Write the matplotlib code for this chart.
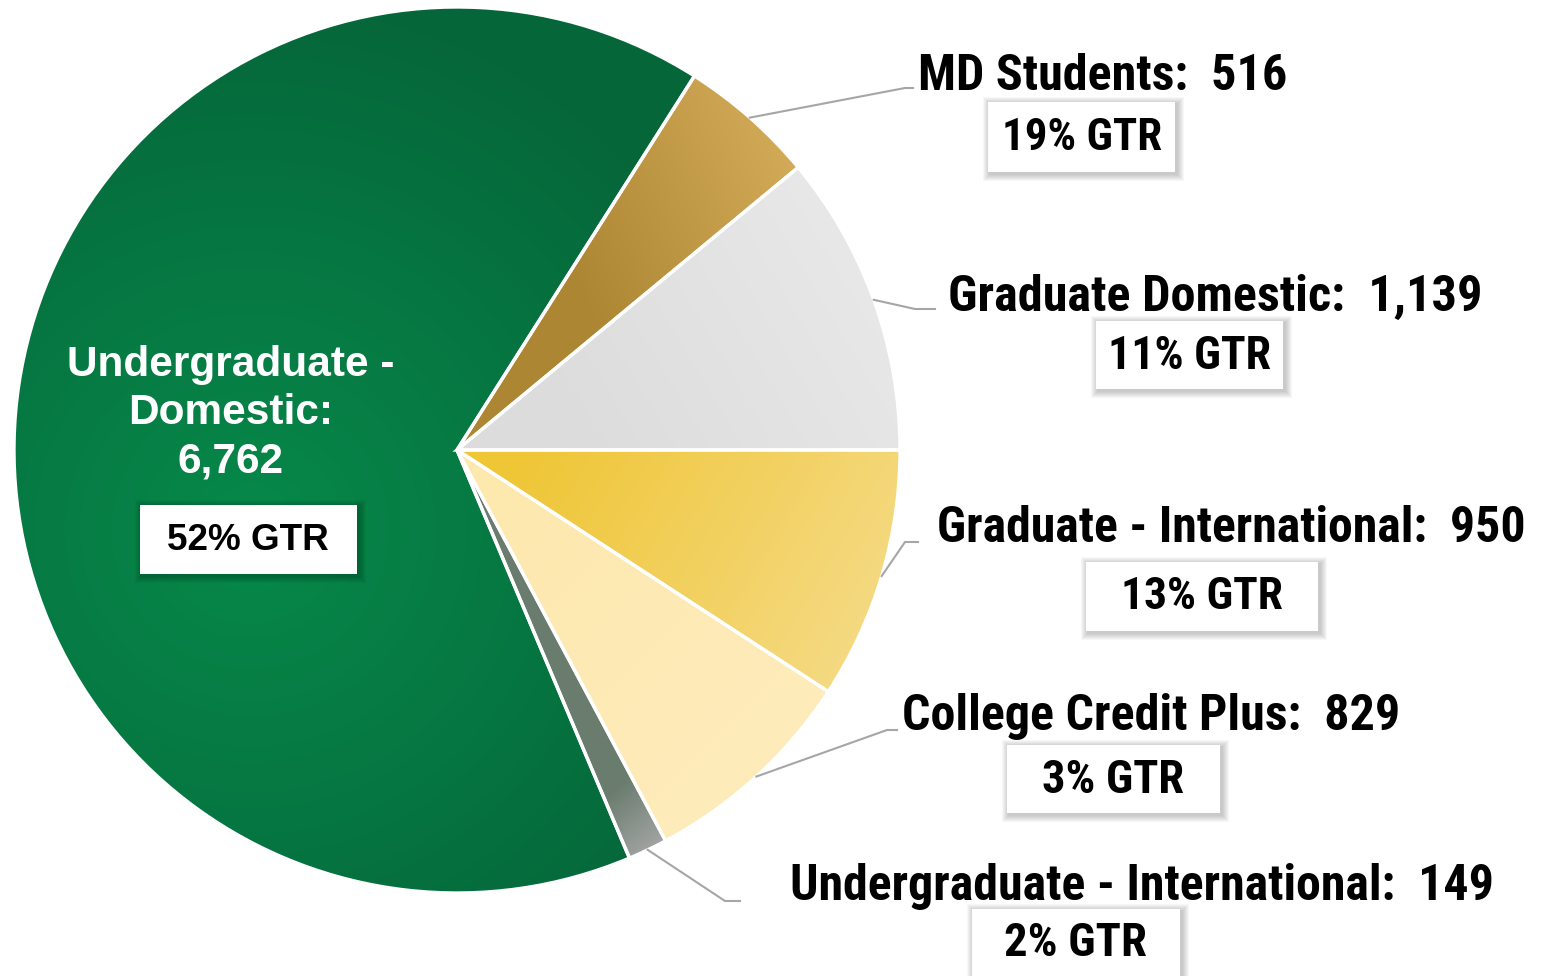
import matplotlib
matplotlib.use("Agg")
import matplotlib.pyplot as plt
import numpy as np
from matplotlib import font_manager
from matplotlib.font_manager import FontProperties
from matplotlib.patches import Rectangle

names = ["Undergraduate - International", "College Credit Plus", "Graduate - International",
         "Graduate Domestic", "MD Students", "Undergraduate - Domestic"]
counts = [149, 829, 950, 1139, 516, 6762]
gtr = ["2% GTR", "3% GTR", "13% GTR", "11% GTR", "19% GTR", "52% GTR"]

# plot order (clockwise from top right)
order = [4, 3, 2, 1, 0, 5]


# look for a narrow bold face, else plain Liberation Sans bold
def find_narrow():
    want = ["liberation sans narrow", "arial narrow", "roboto condensed",
            "open sans condensed", "dejavu sans condensed", "noto sans condensed"]
    fonts = font_manager.fontManager.ttflist
    for w in want:
        for f in fonts:
            fn = f.fname.lower().replace("-", " ").replace("_", " ")
            if (w in f.name.lower() or w.replace(" ", "") in fn.replace(" ", "")) and \
                    ("bold" in fn or f.weight in (700, "bold")):
                return FontProperties(fname=f.fname)
        for f in fonts:
            if w.split()[0] in f.name.lower() and f.stretch == "condensed" and \
                    f.weight in (700, "bold"):
                return FontProperties(fname=f.fname)
    return FontProperties(family="Liberation Sans", weight="bold")


narrow = find_narrow()
wide = FontProperties(family="Liberation Sans", weight="bold")

W, H = 1544, 976
fig = plt.figure(figsize=(W / 100, H / 100), dpi=100)
ax = fig.add_axes([0, 0, 1, 1])
ax.set_xlim(0, W)
ax.set_ylim(0, H)
ax.set_aspect("equal")
ax.axis("off")
renderer = fig.canvas.get_renderer()


def py(y):
    return H - y


cx, cy, r = 457, py(450), 443
vals = [counts[i] for i in order]
start = 360 * (counts[4] + counts[3]) / sum(counts)
wedges, _ = ax.pie(vals, center=(cx, cy), radius=r, startangle=start, counterclock=False,
                   colors=["none"] * 6,
                   wedgeprops=dict(edgecolor="white", linewidth=2.4))
ax.set_xlim(0, W)
ax.set_ylim(0, H)

# gradient fills clipped to wedges
yy, xx = np.mgrid[0:H, 0:W]
xx = xx.astype(float)
yy = (H - yy).astype(float)


def lin(c0, c1, p0, p1):
    c0 = np.array(matplotlib.colors.to_rgb(c0))
    c1 = np.array(matplotlib.colors.to_rgb(c1))
    d = np.array(p1, float) - np.array(p0, float)
    t = ((xx - p0[0]) * d[0] + (yy - p0[1]) * d[1]) / (d @ d)
    t = np.clip(t, 0, 1)[..., None]
    return c0 * (1 - t) + c1 * t


def rad(c0, c1, ctr, rr):
    c0 = np.array(matplotlib.colors.to_rgb(c0))
    c1 = np.array(matplotlib.colors.to_rgb(c1))
    t = np.clip(np.hypot(xx - ctr[0], yy - ctr[1]) / rr, 0, 1)[..., None]
    return c0 * (1 - t) + c1 * t


fills = {
    4: lin("#ad8633", "#d2aa58", (560, py(250)), (790, py(150))),
    3: lin("#dcdcdc", "#e9e9e9", (560, py(420)), (880, py(230))),
    2: lin("#efc636", "#f5da84", (520, py(460)), (860, py(660))),
    1: lin("#fde8ae", "#fdecbc", (500, py(500)), (800, py(800))),
    0: lin("#6a7c6e", "#a8a8a8", (600, py(800)), (650, py(860))),
    5: rad("#07894a", "#05663a", (250, py(530)), 540),
}
for w, i in zip(wedges, order):
    im = ax.imshow(fills[i], extent=(0, W, 0, H), origin="upper", zorder=0.5,
                   interpolation="bilinear")
    im.set_clip_path(w)
    w.set_zorder(1)
ax.set_xlim(0, W)
ax.set_ylim(0, H)

# leader lines from wedge midpoints
elbows = {4: (905, 88, 913), 3: (915, 309, 935), 2: (905, 542, 918),
          1: (887, 730, 897), 0: (725, 901, 740)}
for w, i in zip(wedges, order):
    if i not in elbows:
        continue
    a = np.deg2rad((w.theta1 + w.theta2) / 2)
    x0, y0 = cx + r * np.cos(a), cy + r * np.sin(a)
    ex, ey, hx = elbows[i]
    ax.plot([x0, ex, hx], [y0, py(ey), py(ey)], color="#a6a6a6", lw=1.5, zorder=2)


def fit_text(x, y, s, fp, width, **kw):
    # scale font size so the text spans the given pixel width
    t = ax.text(x, py(y), s, ha="center", va="center", fontproperties=fp,
                fontsize=30, **kw)
    w0 = t.get_window_extent(renderer).width
    t.set_fontsize(30 * width / w0)
    return t


# category labels: centre x, centre y, width in px
label_pos = {4: (1103, 77, 369), 3: (1215, 297, 534), 2: (1231, 529, 589),
             1: (1151, 716, 498), 0: (1142, 886, 705)}
for i, (x, y, wd) in label_pos.items():
    fit_text(x, y, f"{names[i]}:  {counts[i]:,}", narrow, wd, color="black", zorder=3)

ax.text(231, py(413), "Undergraduate -\nDomestic:\n6,762", ha="center", va="center",
        fontproperties=wide, fontsize=30.5, color="white", linespacing=1.26, zorder=3)

# GTR boxes
boxes = {4: (988, 102, 1175, 172), 3: (1096, 321, 1283, 389), 2: (1086, 562, 1318, 631),
         1: (1007, 745, 1220, 813), 0: (972, 909, 1180, 990), 5: (140, 505, 357, 574)}
text_c = {4: (1082, 138, 160), 3: (1190, 356, 163), 2: (1202, 597, 162), 1: (1113, 780, 142),
          0: (1076, 943, 143), 5: (248, 541, 162)}
for i, (x0, y0, x1, y1) in boxes.items():
    # soft shadow
    for k in range(1, 8):
        ax.add_patch(Rectangle((x0 - k + 2, py(y1) - k - 2), x1 - x0 + 2 * k,
                               y1 - y0 + 2 * k, facecolor="black", edgecolor="none",
                               alpha=0.03, zorder=2.5))
    ax.add_patch(Rectangle((x0, py(y1)), x1 - x0, y1 - y0, facecolor="white",
                           edgecolor="none", zorder=3))
    tx, ty, wd = text_c[i]
    fp = wide if i == 5 else narrow
    fit_text(tx, ty, gtr[i], fp, wd, color="black", zorder=4)

fig.savefig("out.png", dpi=100)
